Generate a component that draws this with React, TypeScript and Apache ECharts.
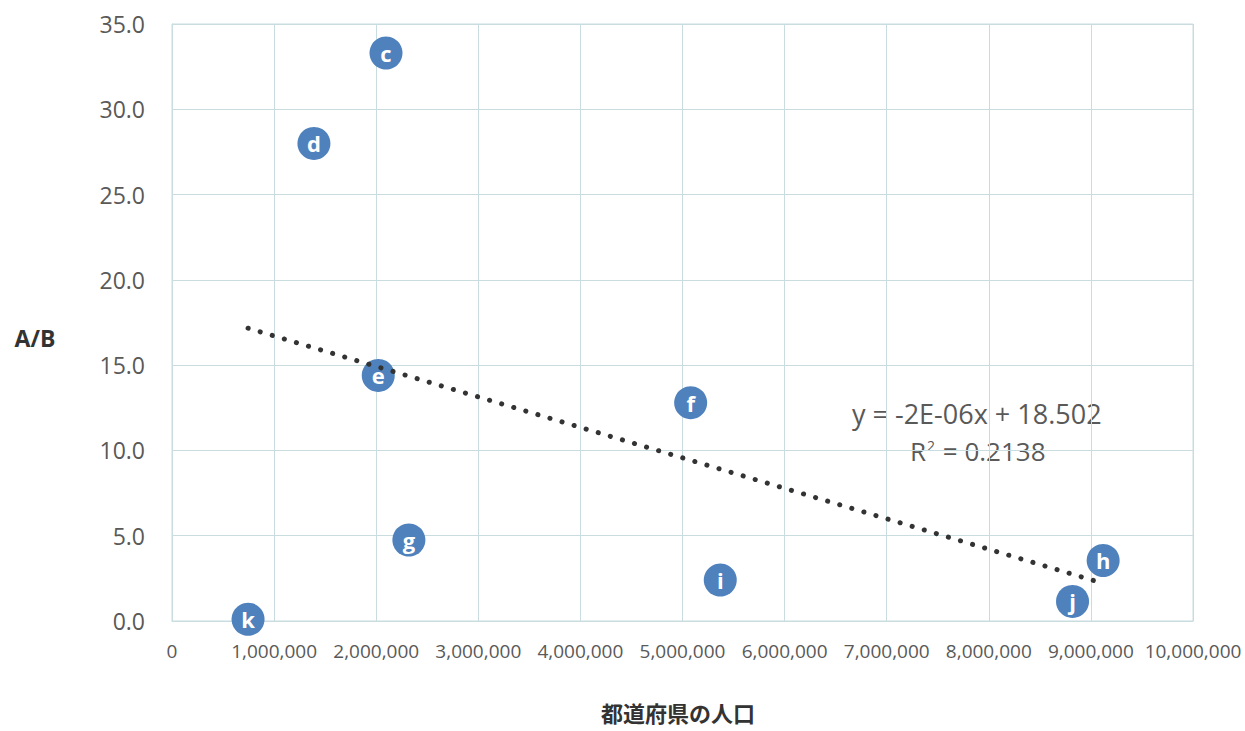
import React, { useEffect, useRef } from "react";
import * as echarts from "echarts";

const pointLabels = ["c", "d", "e", "f", "g", "h", "i", "j", "k"];
const population = [2096000, 1390000, 2020000, 5080000, 2320000, 9120000, 5370000, 8820000, 745000];
const ratioAB = [33.3, 28.0, 14.4, 12.8, 4.75, 3.55, 2.4, 1.15, 0.1];
const xTicks = { min: 0, max: 10000000, interval: 1000000 };
const yTicks = { min: 0, max: 35, interval: 5 };
const equationText = "y = -2E-06x + 18.502";
const r2Value = "0.2138";
const xAxisTitle = "都道府県の人口";
const yAxisTitle = "A/B";

function regression(xs: number[], ys: number[]) {
  const n = xs.length;
  const mx = xs.reduce((a, b) => a + b, 0) / n;
  const my = ys.reduce((a, b) => a + b, 0) / n;
  let sxy = 0, sxx = 0;
  for (let i = 0; i < n; i++) {
    sxy += (xs[i] - mx) * (ys[i] - my);
    sxx += (xs[i] - mx) ** 2;
  }
  const slope = sxy / sxx;
  return { slope, intercept: my - slope * mx };
}

export default function App() {
  const ref = useRef<HTMLDivElement>(null);
  useEffect(() => {
    document.body.style.margin = "0";
    const chart = echarts.init(ref.current!, null, { renderer: "svg" });
    const { slope, intercept } = regression(population, ratioAB);
    const xmin = Math.min(...population);
    const xmax = Math.max(...population);
    const trend = [
      [xmin, intercept + slope * xmin],
      [xmax, intercept + slope * xmax],
    ];
    const font = "'Open Sans', 'Noto Sans CJK JP', sans-serif";
    const gridColor = "#c9dde0";
    chart.setOption({
      animation: false,
      backgroundColor: "#ffffff",
      textStyle: { fontFamily: font },
      grid: {
        left: 172, right: 52, top: 24, bottom: 110,
        outerBoundsMode: "none", containLabel: false,
        show: true, borderColor: gridColor, borderWidth: 1,
      },
      xAxis: {
        type: "value",
        min: xTicks.min,
        max: xTicks.max,
        interval: xTicks.interval,
        axisLine: { show: true, lineStyle: { color: gridColor } },
        axisTick: { show: false },
        splitLine: { show: true, lineStyle: { color: gridColor } },
        axisLabel: {
          color: "#595959",
          fontSize: 19,
          margin: 20,
          fontFamily: font,
          formatter: (v: number) => v.toLocaleString("en-US"),
        },
      },
      yAxis: {
        type: "value",
        min: yTicks.min,
        max: yTicks.max,
        interval: yTicks.interval,
        axisLine: { show: true, lineStyle: { color: gridColor } },
        axisTick: { show: false },
        splitLine: { show: true, lineStyle: { color: gridColor } },
        axisLabel: {
          color: "#595959",
          fontSize: 23,
          margin: 27,
          fontFamily: font,
          formatter: (v: number) => v.toFixed(1),
        },
      },
      series: [
        {
          type: "line",
          data: trend,
          symbol: "none",
          z: 3,
          lineStyle: { color: "#333333", width: 5, type: [0.1, 12.5], cap: "round" },
        },
        {
          type: "scatter",
          z: 2,
          symbolSize: 33,
          itemStyle: { color: "#4f81bd", opacity: 1 },
          data: population.map((x, i) => ({ value: [x, ratioAB[i]], name: pointLabels[i] })),
          label: {
            show: true,
            position: "inside",
            formatter: (p: any) => p.name,
            color: "#ffffff",
            fontSize: 22,
            fontWeight: "bold",
            fontFamily: font,
          },
        },
      ],
      graphic: [
        {
          type: "text",
          x: 35,
          y: 338,
          style: {
            text: yAxisTitle,
            fill: "#333333",
            font: `bold 23px ${font}`,
            textAlign: "center",
            textVerticalAlign: "middle",
          },
        },
        {
          type: "text",
          x: 678,
          y: 713,
          style: {
            text: xAxisTitle,
            fill: "#333333",
            font: `bold 22px ${font}`,
            textAlign: "center",
            textVerticalAlign: "middle",
          },
        },
        {
          type: "text",
          x: 852,
          y: 413,
          style: {
            text: equationText,
            fill: "#595959",
            font: `27px ${font}`,
            textAlign: "left",
            textVerticalAlign: "middle",
          },
        },
        {
          type: "text",
          x: 910,
          y: 451,
          style: {
            text: `{a|R}{s|2}{a| = ${r2Value}}`,
            textAlign: "left",
            textVerticalAlign: "middle",
            rich: {
              a: { fill: "#595959", fontSize: 26, fontFamily: font, verticalAlign: "bottom" },
              s: { fill: "#595959", fontSize: 14, fontFamily: font, verticalAlign: "top", padding: [0, 1, 12, 1] },
            },
          },
        },
      ],
    });
    return () => chart.dispose();
  }, []);
  return <div ref={ref} style={{ width: 1245, height: 731 }} />;
}
